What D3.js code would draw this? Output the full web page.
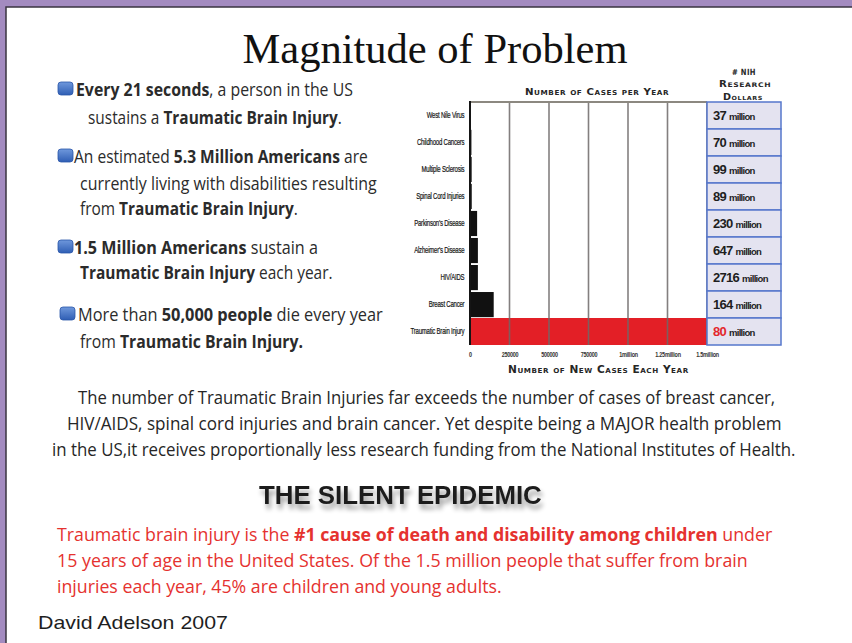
<!DOCTYPE html>
<html>
<head>
<meta charset="utf-8">
<script src="https://cdn.jsdelivr.net/npm/d3@7"></script>
<style>
  body { margin: 0; background: #a38bc0; }
  svg { display: block; }
</style>
</head>
<body>
<div id="chart"></div>
<script>
// chart data
var categories = ["West Nile Virus", "Childhood Cancers", "Multiple Sclerosis", "Spinal Cord Injuries",
                  "Parkinson's Disease", "Alzheimer's Disease", "HIV/AIDS", "Breast Cancer", "Traumatic Brain Injury"];
var newCases = [2500, 9000, 10500, 11000, 45000, 50000, 50000, 150000, 1500000];
var nihDollars = [37, 70, 99, 89, 230, 647, 2716, 164, 80];
var xTicks = [0, 250000, 500000, 750000, 1000000, 1250000, 1500000];
var xTickLabels = ["0", "250000", "500000", "750000", "1million", "1.25million", "1.5million"];

// text blocks: [text, bold]
var bullets = [
  [[["Every 21 seconds", 1], [", a person in the US", 0]],
   [["sustains a ", 0], ["Traumatic Brain Injury", 1], [".", 0]]],
  [[["An estimated ", 0], ["5.3 Million Americans", 1], [" are", 0]],
   [["currently living with disabilities resulting", 0]],
   [["from ", 0], ["Traumatic Brain Injury", 1], [".", 0]]],
  [[["1.5 Million Americans", 1], [" sustain a", 0]],
   [["Traumatic Brain Injury", 1], [" each year.", 0]]],
  [[["More than ", 0], ["50,000 people", 1], [" die every year", 0]],
   [["from ", 0], ["Traumatic Brain Injury.", 1]]]
];
// [x, baseline, width] per line
var bulletLayout = [
  [[76, 96, 277], [88, 124, 254]],
  [[74, 163, 294], [80, 190, 297], [80, 215, 218]],
  [[74, 254, 244], [80, 279, 253]],
  [[78, 321, 305], [80, 348, 223]]
];
var middleLines = [
  "The  number of Traumatic Brain Injuries far exceeds the number of cases of breast cancer,",
  "HIV/AIDS, spinal cord injuries and brain cancer.  Yet despite being a MAJOR health problem",
  "in the US,it receives proportionally less research funding from the National Institutes of Health."
];
var middleLayout = [[78, 404, 698], [67, 430, 715], [52, 456, 744]];
var redLines = [
  [["Traumatic brain injury is the ", 0], ["#1 cause of death and disability among children", 1], [" under", 0]],
  [["15 years of age in the United States.  Of the 1.5 million people that suffer from brain", 0]],
  [["injuries each year, 45% are children and young adults.", 0]]
];
var redLayout = [[57, 541, 716], [57, 567, 691], [57, 593, 445]];

var W = 852, H = 643;
var svg = d3.select("#chart").append("svg")
    .attr("width", W)
    .attr("height", H);

var defs = svg.append("defs");
var shadow = defs.append("filter").attr("id", "shadow")
    .attr("x", "-10%").attr("y", "-40%").attr("width", "120%").attr("height", "220%");
shadow.append("feGaussianBlur").attr("in", "SourceAlpha").attr("stdDeviation", 2.5).attr("result", "b");
shadow.append("feOffset").attr("in", "b").attr("dx", 2).attr("dy", 5).attr("result", "o");
shadow.append("feComponentTransfer").attr("in", "o").attr("result", "s")
  .append("feFuncA").attr("type", "linear").attr("slope", 0.4);
var m = shadow.append("feMerge");
m.append("feMergeNode").attr("in", "s");
m.append("feMergeNode").attr("in", "SourceGraphic");

var grad = defs.append("linearGradient").attr("id", "bullet").attr("x1", 0).attr("y1", 0).attr("x2", 0).attr("y2", 1);
grad.append("stop").attr("offset", "0%").attr("stop-color", "#6f98dc");
grad.append("stop").attr("offset", "100%").attr("stop-color", "#2f5eb4");

// page
svg.append("rect").attr("width", W).attr("height", H).attr("fill", "#a38bc0");
svg.append("rect").attr("x", 6).attr("y", 7).attr("width", W).attr("height", H)
    .attr("fill", "#ffffff").attr("stroke", "#3a3540").attr("stroke-width", 1.5);

// fit a line of text horizontally to a given width
function fitLine(g, x, y, w) {
  var L = g.select("text").node().getComputedTextLength();
  g.attr("transform", "translate(" + x + "," + y + ") scale(" + (w / L) + ",1)");
}

function segLine(parent, segs, x, y, w, size, color, family) {
  var g = parent.append("g");
  var t = g.append("text")
      .attr("font-family", family || "'Open Sans', 'Noto Sans', sans-serif")
      .attr("font-size", size)
      .attr("fill", color);
  segs.forEach(function(s) {
    t.append("tspan").attr("font-weight", s[1] ? 700 : 400).text(s[0]);
  });
  fitLine(g, x, y, w);
  return g;
}

// title
svg.append("text")
    .attr("x", 435).attr("y", 63)
    .attr("text-anchor", "middle")
    .attr("font-family", "'Liberation Serif', 'Times New Roman', serif")
    .attr("font-size", 42)
    .attr("fill", "#111")
    .attr("textLength", 385)
    .attr("lengthAdjust", "spacingAndGlyphs")
    .text("Magnitude of Problem");

// bullets
bullets.forEach(function(b, i) {
  var lay = bulletLayout[i];
  svg.append("rect")
      .attr("x", i === 3 ? 60 : 58).attr("y", lay[0][1] - 14)
      .attr("width", 15).attr("height", 13)
      .attr("rx", 3)
      .attr("fill", "url(#bullet)")
      .attr("stroke", "#2a55a8").attr("stroke-width", 0.8);
  b.forEach(function(line, j) {
    segLine(svg, line, lay[j][0], lay[j][1], lay[j][2], 18.5, "#2b2b2b");
  });
});

// chart
var plotLeft = 470, plotRight = 707, plotTop = 102, plotBottom = 345;
var x = d3.scaleLinear().domain([0, 1500000]).range([plotLeft, plotRight]);
var y = d3.scaleBand().domain(categories).range([plotTop, plotBottom]).paddingInner(0.07).paddingOuter(0.03);
var yRow = d3.scaleBand().domain(categories).range([plotTop, plotBottom]);

var chart = svg.append("g");

chart.selectAll(".bar")
  .data(categories)
  .enter().append("rect")
    .attr("class", "bar")
    .attr("x", x(0))
    .attr("y", function(d, i) { return i === categories.length - 1 ? yRow(d) : y(d); })
    .attr("width", function(d, i) { return x(newCases[i]) - x(0); })
    .attr("height", function(d, i) { return i === categories.length - 1 ? yRow.bandwidth() : y.bandwidth(); })
    .attr("fill", function(d, i) { return i === categories.length - 1 ? "#e31f26" : "#111"; });

// gridlines
chart.selectAll(".grid")
  .data(xTicks.slice(1))
  .enter().append("line")
    .attr("x1", function(d) { return x(d); })
    .attr("x2", function(d) { return x(d); })
    .attr("y1", plotTop)
    .attr("y2", plotBottom)
    .attr("stroke", "#6d6868")
    .attr("stroke-opacity", 0.85)
    .attr("stroke-width", 1.6);

chart.append("line")
    .attr("x1", plotLeft).attr("x2", plotRight).attr("y1", plotTop).attr("y2", plotTop)
    .attr("stroke", "#8c8880").attr("stroke-width", 2);

// x axis labels
var xAxis = d3.axisBottom(x)
    .tickValues(xTicks)
    .tickSize(0)
    .tickPadding(0)
    .tickFormat(function(d, i) { return xTickLabels[i]; });
var gx = chart.append("g")
    .attr("transform", "translate(0," + (plotBottom + 6) + ")")
    .call(xAxis);
gx.select(".domain").remove();
gx.selectAll("text")
    .attr("font-family", "'Liberation Sans', Arial, sans-serif")
    .attr("font-size", 8)
    .attr("font-weight", 700)
    .attr("letter-spacing", -0.35)
    .attr("fill", "#333")
    .attr("transform", "scale(0.68,1)");

// y axis labels
var yAxis = d3.axisLeft(yRow).tickSize(0).tickPadding(8);
var gy = chart.append("g")
    .attr("transform", "translate(" + plotLeft + ",0)")
    .call(yAxis);
gy.select(".domain").remove();
gy.selectAll("text")
    .attr("font-family", "'Liberation Sans', Arial, sans-serif")
    .attr("font-size", 8.6)
    .attr("letter-spacing", -0.3)
    .attr("fill", "#151515")
    .attr("stroke", "#151515")
    .attr("stroke-width", 0.2)
    .attr("transform", "scale(0.7,1)");

chart.append("line")
    .attr("x1", plotLeft).attr("x2", plotLeft).attr("y1", plotTop - 1).attr("y2", plotBottom)
    .attr("stroke", "#151515").attr("stroke-width", 2);

// small caps headings
function capsText(txt, cx, y, w, size) {
  var g = svg.append("g");
  g.append("text")
      .attr("font-family", "'DejaVu Sans', sans-serif")
      .attr("font-weight", 700)
      .attr("font-size", size)
      .attr("font-variant", "small-caps")
      .attr("letter-spacing", 0.5)
      .attr("fill", "#262626")
      .text(txt);
  fitLine(g, cx - w / 2, y, w);
}
capsText("Number of Cases per Year", 599, 95, 148, 9.5);
capsText("Number of New Cases Each Year", 600, 373, 184, 10);
capsText("# NIH", 744, 75, 24, 8.5);
capsText("Research", 744, 87, 50, 8.5);
capsText("Dollars", 744, 100, 42, 8.5);

// NIH dollars table
var table = svg.append("g");
table.selectAll(".cell")
  .data(categories)
  .enter().append("rect")
    .attr("x", plotRight)
    .attr("y", function(d) { return yRow(d); })
    .attr("width", 74)
    .attr("height", yRow.bandwidth())
    .attr("fill", "#e4e3f0")
    .attr("stroke", "#5677cc")
    .attr("stroke-width", 1.5);

var vals = table.selectAll(".val")
  .data(categories)
  .enter().append("text")
    .attr("x", plotRight + 6)
    .attr("y", function(d) { return yRow(d) + yRow.bandwidth() / 2 + 4.5; })
    .attr("font-family", "'Liberation Sans', Arial, sans-serif")
    .attr("font-weight", 700)
    .attr("letter-spacing", -0.7)
    .attr("fill", "#1e1e1e");
vals.append("tspan")
    .attr("font-size", 13)
    .attr("fill", function(d, i) { return i === categories.length - 1 ? "#e3262c" : "#1e1e1e"; })
    .text(function(d, i) { return nihDollars[i] + " "; });
vals.append("tspan")
    .attr("font-size", 9.5)
    .text("million");

// middle paragraph
middleLines.forEach(function(line, i) {
  var l = middleLayout[i];
  segLine(svg, [[line, 0]], l[0], l[1], l[2], 18.5, "#262626");
});

// silent epidemic
var se = svg.append("g").attr("filter", "url(#shadow)");
se.append("text")
    .attr("font-family", "'Liberation Sans', Arial, sans-serif")
    .attr("font-weight", 700)
    .attr("font-size", 26)
    .attr("fill", "#1c1c1c")
    .text("THE SILENT EPIDEMIC");
fitLine(se, 259, 504, 283);

redLines.forEach(function(line, i) {
  var l = redLayout[i];
  segLine(svg, line, l[0], l[1], l[2], 18.5, "#e5322f");
});

var da = svg.append("g");
da.append("text")
    .attr("font-family", "'Liberation Sans', Arial, sans-serif")
    .attr("font-size", 19)
    .attr("fill", "#1e1e1e")
    .text("David Adelson 2007");
fitLine(da, 38, 629, 190);
</script>
</body>
</html>
